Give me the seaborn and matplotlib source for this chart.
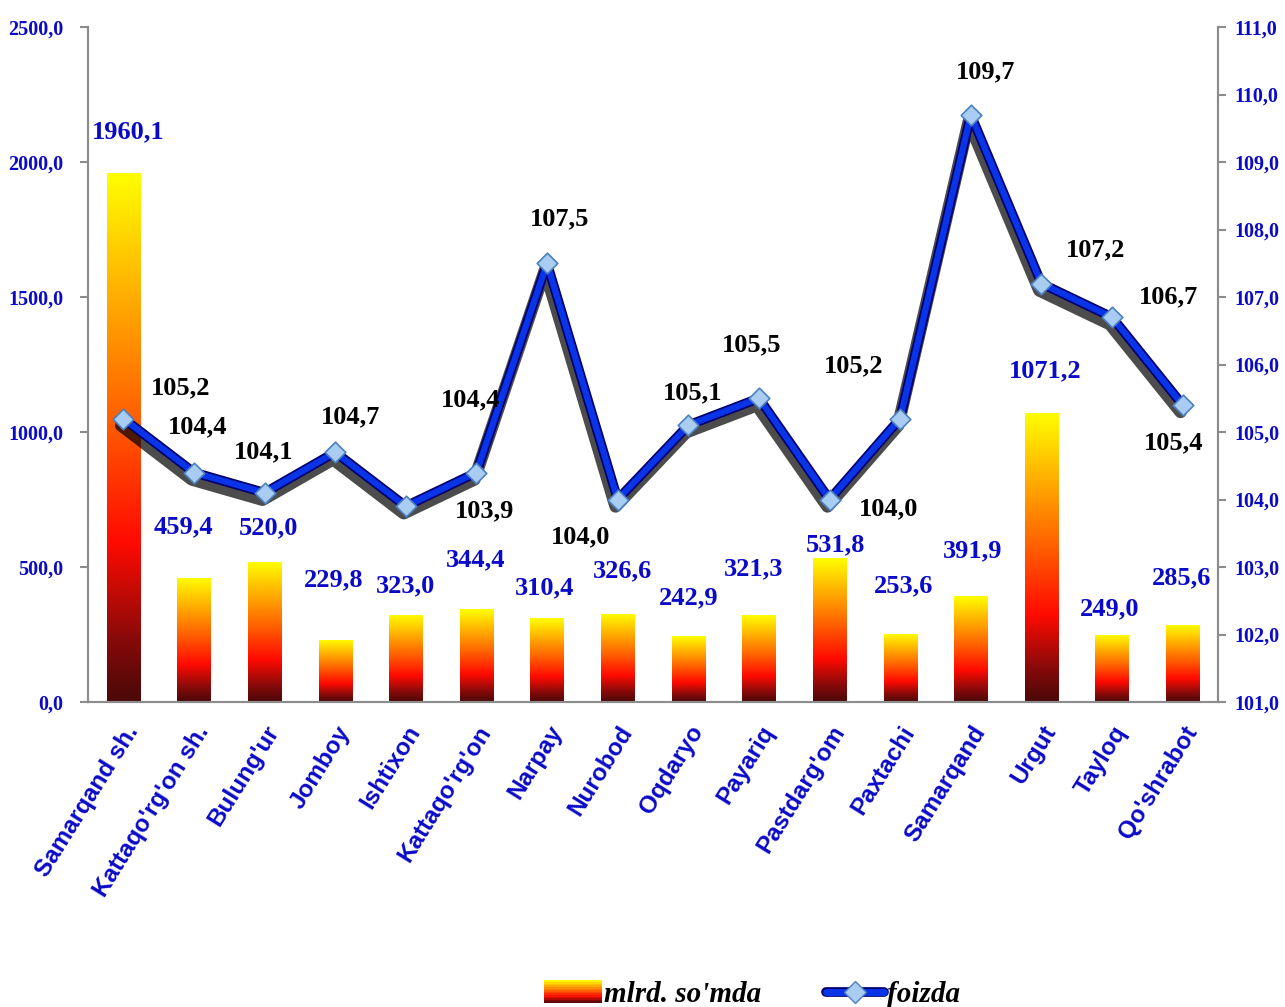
import numpy as np
import pandas as pd
import matplotlib
matplotlib.use("Agg")
import matplotlib.pyplot as plt
import seaborn as sns
from matplotlib.colors import LinearSegmentedColormap
from matplotlib.patches import Rectangle, Patch
from matplotlib.lines import Line2D
from matplotlib.legend_handler import HandlerBase
import matplotlib.patheffects as pe
from matplotlib.ticker import FuncFormatter, FixedLocator

# ---------------- data ----------------
categories = ["Samarqand sh.", "Kattaqo'rg'on sh.", "Bulung'ur", "Jomboy", "Ishtixon",
              "Kattaqo'rg'on", "Narpay", "Nurobod", "Oqdaryo", "Payariq", "Pastdarg'om",
              "Paxtachi", "Samarqand", "Urgut", "Tayloq", "Qo'shrabot"]
amounts = [1960.1, 459.4, 520.0, 229.8, 323.0, 344.4, 310.4, 326.6, 242.9, 321.3,
           531.8, 253.6, 391.9, 1071.2, 249.0, 285.6]
percent = [105.2, 104.4, 104.1, 104.7, 103.9, 104.4, 107.5, 104.0, 105.1, 105.5,
           104.0, 105.2, 109.7, 107.2, 106.7, 105.4]
left_ticks = [0, 500, 1000, 1500, 2000, 2500]
right_ticks = [101, 102, 103, 104, 105, 106, 107, 108, 109, 110, 111]
legend_labels = ["mlrd. so'mda", "foizda"]

# label offsets (pixels) relative to the data point
bar_label_offsets = [(5, 41), (-10, 51), (4, 34), (-2, 60), (0, 29), (-1, 49), (-2, 30),
                     (5, 43), (0, 39), (-5, 46), (6, 14), (3, 48), (2, 45), (4, 42),
                     (-2, 26), (-1, 47)]
line_label_offsets = [(57, 31), (4, 46), (-1, 41), (15, 35), (79, -5), (-6, 73), (13, 44),
                      (-37, -37), (4, 32), (-7, 53), (59, -9), (-47, 53), (15, 43),
                      (54, 34), (56, 20), (-9, -38)]

# ---------------- style ----------------
sns.set_style("white")
plt.rcParams["font.family"] = ["Liberation Serif", "DejaVu Serif"]
plt.rcParams["text.color"] = "black"
BLUE = "#0a0ac8"
GRAY = "#8c8c8c"

cmap = LinearSegmentedColormap.from_list(
    "barfire",
    [(0.0, "#4a0808"), (0.12, "#8a0a0a"), (0.3, "#ff0a00"), (0.55, "#ff6400"),
     (0.75, "#ffa800"), (1.0, "#ffff00")])

df = pd.DataFrame({"cat": categories, "amt": amounts, "pct": percent})

fig = plt.figure(figsize=(12.85, 10.07), dpi=100)
ax = fig.add_axes([88 / 1285, 1 - 702 / 1007, (1218 - 88) / 1285, (702 - 27) / 1007])

sns.barplot(data=df, x="cat", y="amt", ax=ax, width=0.47, color="orange",
            order=categories, zorder=2)

grad = np.linspace(0, 1, 256).reshape(-1, 1)
for p in list(ax.patches):
    x0, y0 = p.get_x(), p.get_y()
    w, h = p.get_width(), p.get_height()
    im = ax.imshow(grad, extent=[x0, x0 + w, y0, y0 + h], origin="lower",
                   cmap=cmap, aspect="auto", zorder=2, interpolation="bilinear")
    im.set_clip_path(p)
    p.set_facecolor("none")
    p.set_edgecolor("none")

ax.set_xlim(-0.5, len(categories) - 0.5)
ax.set_ylim(0, 2500)
ax.set_xlabel("")
ax.set_ylabel("")

ax.spines["top"].set_visible(False)
for s in ["left", "right", "bottom"]:
    ax.spines[s].set_color(GRAY)
    ax.spines[s].set_linewidth(1.5)

fmt = FuncFormatter(lambda v, _: f"{v:.1f}".replace(".", ","))
ax.yaxis.set_major_locator(FixedLocator(left_ticks))
ax.yaxis.set_major_formatter(fmt)
ax.tick_params(axis="y", direction="out", length=6, width=1.5, color=GRAY,
               labelcolor=BLUE, labelsize=14.5, pad=12)
for t in ax.get_yticklabels():
    t.set_fontweight("bold")

ax.set_xticks(range(len(categories)))
ax.set_xticklabels(categories, rotation=58, ha="right", rotation_mode="anchor",
                   fontsize=17.5, fontweight="bold", color=BLUE, family="Liberation Sans")
ax.tick_params(axis="x", which="major", length=0, pad=14)
ax.set_xticks(np.arange(-0.5, len(categories), 1.0), minor=True)
ax.tick_params(axis="x", which="minor", direction="out", length=7, width=1.5, color=GRAY)

# bar labels
for i, v in enumerate(amounts):
    dx, dy = bar_label_offsets[i]
    ax.annotate(f"{v:.1f}".replace(".", ","), (i, v), xytext=(dx, dy),
                textcoords="offset pixels", ha="center", va="center",
                fontsize=19, fontweight="bold", color=BLUE, zorder=6)

# ---------------- line on secondary axis ----------------
ax2 = ax.twinx()
line_fx = [pe.SimpleLineShadow(offset=(-1.5, -5), shadow_color="black", alpha=0.7,
                               linewidth=9),
           pe.Stroke(linewidth=7, foreground="#00006e"),
           pe.Normal()]
sns.lineplot(x=np.arange(len(categories)), y=percent, ax=ax2, color="#0a34e8",
             linewidth=4.5, zorder=4, path_effects=line_fx)
sns.scatterplot(x=np.arange(len(categories)), y=percent, ax=ax2, marker="D", s=110,
                color="#a8ccf2", edgecolor="#4d80c0", linewidth=1.2, zorder=5)
ax2.set_ylim(101, 111)
ax2.set_xlim(-0.5, len(categories) - 0.5)
ax2.set_ylabel("")
ax2.yaxis.set_major_locator(FixedLocator(right_ticks))
ax2.yaxis.set_major_formatter(fmt)
ax2.tick_params(axis="y", direction="out", length=6, width=1.5, color=GRAY,
                labelcolor=BLUE, labelsize=14.5, pad=6)
for t in ax2.get_yticklabels():
    t.set_fontweight("bold")
ax2.spines["top"].set_visible(False)
for s in ["left", "right", "bottom"]:
    ax2.spines[s].set_color(GRAY)
    ax2.spines[s].set_linewidth(1.5)

for i, v in enumerate(percent):
    dx, dy = line_label_offsets[i]
    ax2.annotate(f"{v:.1f}".replace(".", ","), (i, v), xytext=(dx, dy),
                 textcoords="offset pixels", ha="center", va="center",
                 fontsize=19, fontweight="bold", color="black", zorder=6)


# ---------------- legend ----------------
class GradHandler(HandlerBase):
    def create_artists(self, legend, orig_handle, xdescent, ydescent, width, height,
                       fontsize, trans):
        n = 14
        arts = []
        for k in range(n):
            r = Rectangle((-xdescent, -ydescent + k * height / n), width, height / n + 0.3,
                          facecolor=cmap((k + 0.5) / n), edgecolor="none", transform=trans)
            arts.append(r)
        return arts


class LineDiamondHandler(HandlerBase):
    def create_artists(self, legend, orig_handle, xdescent, ydescent, width, height,
                       fontsize, trans):
        yc = -ydescent + height / 2
        ln = Line2D([-xdescent, -xdescent + width], [yc, yc], color="#0a34e8", lw=5,
                    solid_capstyle="round", transform=trans,
                    path_effects=[pe.Stroke(linewidth=7, foreground="#00006e"), pe.Normal()])
        mk = Line2D([-xdescent + width / 2], [yc], marker="D", markersize=11,
                    markerfacecolor="#a8ccf2", markeredgecolor="#4d80c0", lw=0,
                    transform=trans)
        return [ln, mk]


grad_handle = Patch(facecolor="orange")
line_handle = Line2D([], [], color="#0a34e8")
fig.legend(handles=[grad_handle, line_handle], labels=legend_labels,
           handler_map={grad_handle: GradHandler(), line_handle: LineDiamondHandler()},
           loc="lower center", bbox_to_anchor=(0.585, -0.027), ncol=2, frameon=False,
           prop={"family": "Liberation Serif", "weight": "bold", "style": "italic",
                 "size": 21},
           labelcolor="black",
           handlelength=2.0, handleheight=0.8, handletextpad=0.08, columnspacing=2.2,
           numpoints=1)

fig.savefig("out.png", dpi=100)
